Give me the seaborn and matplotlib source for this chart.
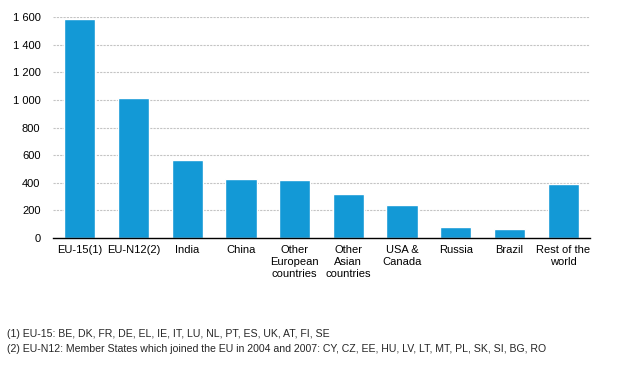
import matplotlib
matplotlib.use("Agg")
import matplotlib.pyplot as plt
import numpy as np
import pandas as pd
import seaborn as sns
from matplotlib.ticker import FuncFormatter, FixedLocator

categories = ["EU-15(1)", "EU-N12(2)", "India", "China", "Other\nEuropean\ncountries",
              "Other\nAsian\ncountries", "USA &\nCanada", "Russia", "Brazil", "Rest of the\nworld"]
values = [1585, 1012, 562, 425, 418, 315, 242, 82, 68, 388]
yticks = [0, 200, 400, 600, 800, 1000, 1200, 1400, 1600]
footnotes = [
    "(1) EU-15: BE, DK, FR, DE, EL, IE, IT, LU, NL, PT, ES, UK, AT, FI, SE",
    "(2) EU-N12: Member States which joined the EU in 2004 and 2007: CY, CZ, EE, HU, LV, LT, MT, PL, SK, SI, BG, RO",
]

sns.set_style("white")
plt.rcParams["font.family"] = ["Liberation Sans", "DejaVu Sans"]

df = pd.DataFrame({"category": categories, "value": values})

fig = plt.figure(figsize=(6.18, 3.72), dpi=100)
ax = fig.add_axes([53 / 618, 1 - 238 / 372, (590 - 53) / 618, (238 - 17) / 372])

sns.barplot(df, x="category", y="value", color="#1399d6", saturation=1, width=0.58, ax=ax)

ax.set_xlim(-0.5, len(categories) - 0.5)
ax.set_ylim(0, 1600)
ax.set_yticks(yticks)
ax.yaxis.set_major_formatter(FuncFormatter(lambda v, p: f"{int(v):,}".replace(",", " ")))
for y in yticks[1:]:
    ax.axhline(y, color="#c4c4c4", linestyle=(0, (2, 1)), linewidth=0.8, zorder=0)

ax.set_xlabel("")
ax.set_ylabel("")
for s in ["top", "right", "left"]:
    ax.spines[s].set_visible(False)
ax.spines["bottom"].set_color("black")
ax.spines["bottom"].set_linewidth(1)

ax.tick_params(axis="x", which="major", length=0, labelsize=8, pad=5, colors="black")
ax.xaxis.set_minor_locator(FixedLocator(np.arange(-0.5, len(categories), 1)))
ax.tick_params(axis="x", which="minor", length=4, width=1, color="black", direction="out")
ax.tick_params(axis="y", length=0, labelsize=8, pad=9, colors="black")
for lbl in ax.get_xticklabels():
    lbl.set_verticalalignment("top")
    lbl.set_linespacing(1.25)

fig.text(7 / 618, 1 - 334 / 372, footnotes[0], fontsize=7.6, va="center", ha="left")
fig.text(7 / 618, 1 - 349 / 372, footnotes[1], fontsize=7.6, va="center", ha="left")

fig.savefig("out.png", dpi=100)
